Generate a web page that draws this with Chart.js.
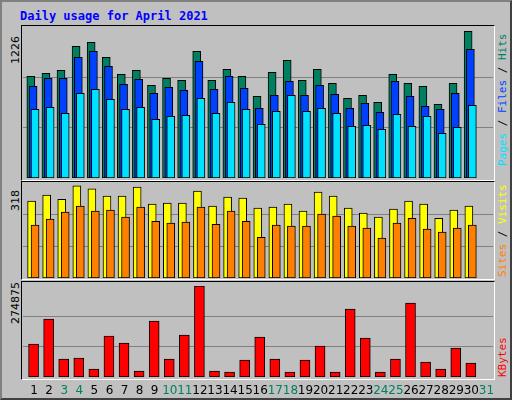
<!DOCTYPE html>
<html><head><meta charset="utf-8">
<script src="https://cdn.jsdelivr.net/npm/chart.js"></script>
<style>
html,body{margin:0;padding:0;background:#fff;}
#wrap{position:relative;width:512px;height:400px;background:#c0c0c0;box-sizing:border-box;border:2px solid #808080;border-right-color:#404040;border-bottom-color:#404040;}
canvas{position:absolute;left:0;top:0;}
.frame{position:absolute;box-sizing:border-box;border:1px solid #000;border-right-color:#fff;border-bottom-color:#fff;}
.t{position:absolute;white-space:nowrap;font-family:"DejaVu Sans Mono",monospace;}
.rot{transform-origin:0 0;transform:rotate(-90deg);}
</style></head><body>
<div id="wrap">
<div class="t" style="left:18px;top:7px;color:#0000ff;font-weight:bold;font-size:12px;">Daily usage for April 2021</div>
<div class="frame" style="left:19px;top:23px;width:474px;height:156px;"></div>
<div class="frame" style="left:19px;top:179px;width:474px;height:99px;"></div>
<div class="frame" style="left:19px;top:279px;width:474px;height:99px;"></div>
<div class="t rot" style="left:7px;top:62px;font-family:'DejaVu Sans',sans-serif;font-size:11px;color:#000;">1226</div>
<div class="t rot" style="left:7px;top:209px;font-family:'DejaVu Sans',sans-serif;font-size:11px;color:#000;">318</div>
<div class="t rot" style="left:7px;top:322px;font-family:'DejaVu Sans',sans-serif;font-size:11px;color:#000;">274875</div>
<div class="t rot" style="left:494px;top:164px;font-size:11px;"><span style="color:#00e0ff">Pages</span><span style="color:#000"> / </span><span style="color:#0040ff">Files</span><span style="color:#000"> / </span><span style="color:#008060">Hits</span></div>
<div class="t rot" style="left:494px;top:275px;font-size:11px;"><span style="color:#ff8000">Sites</span><span style="color:#000"> / </span><span style="color:#ffff00">Visits</span></div>
<div class="t rot" style="left:494px;top:375px;font-size:11px;color:#ff0000;">KBytes</div>
<canvas id="c1" width="512" height="400"></canvas>
<canvas id="c2" width="512" height="400"></canvas>
<canvas id="c3" width="512" height="400"></canvas>
</div>
<script>
const days=[1,2,3,4,5,6,7,8,9,10,11,12,13,14,15,16,17,18,19,20,21,22,23,24,25,26,27,28,29,30];
const dayLabels=['1','2','3','4','5','6','7','8','9','10','11','12','13','14','15','16','17','18','19','20','21','22','23','24','25','26','27','28','29','30','31'];
const weekendDays=[3,4,10,11,17,18,24,25,31];
const hits=[825,850,874,1069,1101,980,842,874,752,809,793,1028,793,882,825,663,858,955,793,882,769,647,671,614,842,769,744,598,769,1191];
const files=[744,809,809,980,1028,907,760,801,687,736,712,947,720,825,728,566,671,785,671,752,679,566,606,533,785,663,582,557,687,1045];
const pages=[557,574,525,687,720,639,557,574,476,501,509,647,525,614,557,436,541,671,541,566,525,419,428,395,517,419,501,363,411,590];
const visits=[255,275,261,305,295,271,271,301,245,248,248,288,238,268,265,232,235,245,222,285,271,232,215,202,228,255,245,198,225,238];
const sites=[175,195,218,238,222,225,202,235,188,182,185,235,178,222,188,135,175,172,172,212,205,172,165,132,182,198,162,152,165,175];
const kbytes=[99700,175200,54400,57400,24200,123900,102700,18100,169200,54400,126900,274875,18100,15100,51400,120800,54400,15100,51400,93700,15100,205400,117800,15100,54400,223600,45300,24200,87600,42300];
const maxTop=1226, maxMid=318, maxBot=274875;

function pts(vals,off){return vals.map((v,i)=>({x:days[i]+off,y:v}));}
function ds(vals,off,color,w){return {data:pts(vals,off),backgroundColor:color,borderColor:'#000',borderWidth:1,borderSkipped:false,barThickness:w,grouped:false};}
function opts(max,top,bottom,xlabels){
  return {responsive:false,animation:false,events:[],
    layout:{padding:{left:21,right:512-491,top:top,bottom:400-bottom}},
    plugins:{legend:{display:false},tooltip:{enabled:false}},
    scales:{
      x:{type:'linear',min:0.2,max:31.37,display:false,offset:false},
      y:{min:0,max:max,display:true,border:{display:false},
         ticks:{display:false},
         afterBuildTicks:s=>{s.ticks=[{value:max/3},{value:2*max/3}];},
         grid:{color:'#808080',drawTicks:false,lineWidth:1}}
    }};
}
const labelPlugin={id:'xl',afterDraw(ch){
  const c=ch.ctx, sx=ch.scales.x;
  c.save();c.font='12px "DejaVu Sans", sans-serif';c.textAlign='center';c.textBaseline='middle';
  dayLabels.forEach((l,i)=>{const d=i+1;c.fillStyle=weekendDays.includes(d)?'#008060':'#000';c.fillText(l,sx.getPixelForValue(d)-1,389);});
  c.restore();}};
new Chart(document.getElementById('c1'),{type:'bar',data:{datasets:[ds(pages,0,'#00e0ff',8),ds(files,-0.13,'#0040ff',8),ds(hits,-0.28,'#008060',8)]},options:opts(maxTop,25,176)});
new Chart(document.getElementById('c2'),{type:'bar',data:{datasets:[ds(sites,0,'#ff8000',8),ds(visits,-0.23,'#ffff00',8)]},options:opts(maxMid,180,276)});
new Chart(document.getElementById('c3'),{type:'bar',data:{datasets:[ds(kbytes,-0.1,'#ff0000',10)]},options:opts(maxBot,284,375),plugins:[labelPlugin]});
</script>
</body></html>
